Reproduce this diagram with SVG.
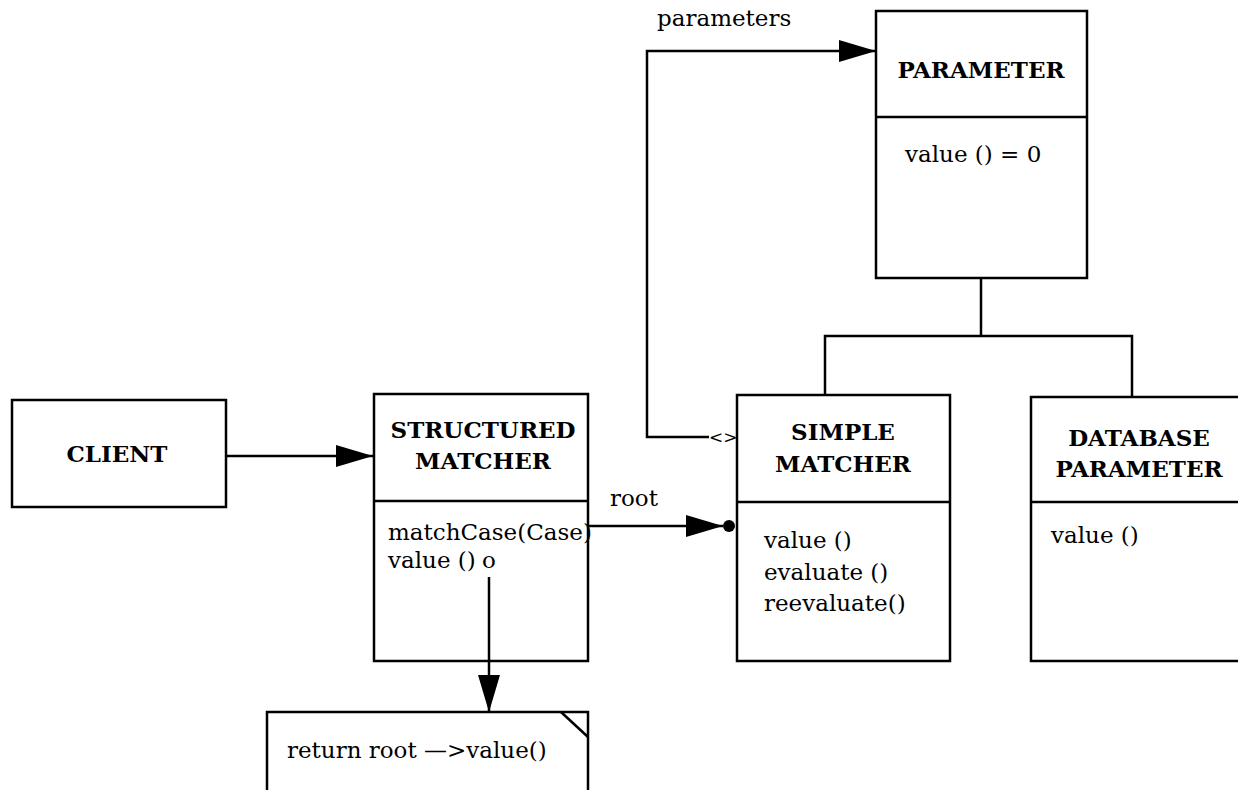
<svg xmlns="http://www.w3.org/2000/svg" width="1238" height="790" viewBox="0 0 1238 790">
  <defs>
    <style>
      .box { fill: #fff; stroke: #000; stroke-width: 2.5; }
      .ln { fill: none; stroke: #000; stroke-width: 2.5; }
      .t { font-family: "DejaVu Serif", serif; font-size: 23px; fill: #000; }
      .b { font-family: "DejaVu Serif", serif; font-size: 23px; font-weight: bold; fill: #000; text-anchor: middle; }
    </style>
    <marker id="arrow" markerWidth="38" markerHeight="22" refX="37" refY="11" orient="auto" markerUnits="userSpaceOnUse">
      <path d="M0,0 L37,11 L0,22 Z" fill="#000"/>
    </marker>
  </defs>
  <rect width="1238" height="790" fill="#fff"/>

  <g id="client">
    <rect class="box" x="12" y="400" width="214" height="107"/>
    <text class="b" x="117" y="462">CLIENT</text>
  </g>

  <g id="structured-matcher">
    <rect class="box" x="374" y="394" width="214" height="267"/>
    <line class="ln" x1="374" y1="501" x2="588" y2="501"/>
    <text class="b" x="483" y="438">STRUCTURED</text>
    <text class="b" x="483" y="469">MATCHER</text>
    <text class="t" x="388" y="540">matchCase(Case)</text>
    <text class="t" x="388" y="568">value ()</text>
    <text class="t" x="482" y="568">o</text>
  </g>

  <g id="simple-matcher">
    <rect class="box" x="737" y="395" width="213" height="266"/>
    <line class="ln" x1="737" y1="502" x2="950" y2="502"/>
    <text class="b" x="843" y="440">SIMPLE</text>
    <text class="b" x="843" y="472">MATCHER</text>
    <text class="t" x="764" y="548">value ()</text>
    <text class="t" x="764" y="580">evaluate ()</text>
    <text class="t" x="764" y="611">reevaluate()</text>
  </g>

  <g id="parameter">
    <rect class="box" x="876" y="11" width="211" height="267"/>
    <line class="ln" x1="876" y1="117" x2="1087" y2="117"/>
    <text class="b" x="981" y="78">PARAMETER</text>
    <text class="t" x="905" y="162">value () = 0</text>
  </g>

  <g id="database-parameter">
    <rect class="box" x="1031" y="397" width="220" height="264"/>
    <line class="ln" x1="1031" y1="502" x2="1238" y2="502"/>
    <text class="b" x="1139" y="446">DATABASE</text>
    <text class="b" x="1139" y="477">PARAMETER</text>
    <text class="t" x="1051" y="543">value ()</text>
  </g>

  <g id="note">
    <rect class="box" x="267" y="712" width="321" height="100"/>
    <line class="ln" x1="561" y1="712" x2="588" y2="737"/>
    <text class="t" x="287" y="758">return root —&gt;value()</text>
  </g>

  <!-- connectors -->
  <g id="connectors">
    <line class="ln" x1="226" y1="456" x2="373" y2="456" marker-end="url(#arrow)"/>
    <line class="ln" x1="588" y1="526" x2="723" y2="526" marker-end="url(#arrow)"/>
    <circle cx="729" cy="526" r="6" fill="#000"/>
    <text class="t" x="610" y="506">root</text>
    <polyline class="ln" points="709,437 647,437 647,51 876,51" marker-end="url(#arrow)"/>
    <text x="709" y="443" font-family="DejaVu Serif, serif" font-size="17" fill="#000">&lt;&gt;</text>
    <text class="t" x="657" y="26">parameters</text>
    <line class="ln" x1="489" y1="577" x2="489" y2="712" marker-end="url(#arrow)"/>
    <polyline class="ln" points="981,278 981,336"/>
    <polyline class="ln" points="825,395 825,336 1132,336 1132,397"/>
  </g>
</svg>
